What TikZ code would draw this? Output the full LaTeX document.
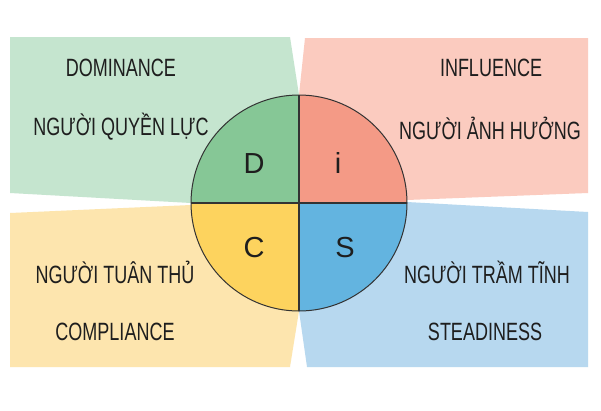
\documentclass[tikz,border=0pt]{standalone}
\usepackage{fontspec}
\setmainfont{Liberation Sans}[FakeStretch=0.72]
\newfontfamily\letterfont{Liberation Sans}
\definecolor{gLight}{HTML}{C5E5CF}
\definecolor{pLight}{HTML}{FBCBBF}
\definecolor{yLight}{HTML}{FDE5AE}
\definecolor{bLight}{HTML}{B7D8EF}
\definecolor{gDark}{HTML}{86C796}
\definecolor{pDark}{HTML}{F49A86}
\definecolor{yDark}{HTML}{FDD35E}
\definecolor{bDark}{HTML}{63B4E0}
\definecolor{lineC}{HTML}{333333}
\definecolor{txtC}{HTML}{1E1E1E}
\begin{document}
\begin{tikzpicture}[x=1pt,y=-1pt,
  lbl/.style={text=txtC,font=\fontsize{25}{30}\selectfont,inner sep=0pt,anchor=center},
  letter/.style={text=txtC,font=\letterfont\fontsize{29}{34}\selectfont,inner sep=0pt,anchor=center}]
\useasboundingbox (0,0) rectangle (601,410);
\fill[white] (0,0) rectangle (601,410);
% quadrants
\fill[gLight] (10,37) -- (290,37) -- (299,95) -- (299,203) -- (191,203) -- (10,193) -- cycle;
\fill[pLight] (305,38) -- (588,38) -- (588,193) -- (407,200) -- (299,203) -- (299,95) -- cycle;
\fill[yLight] (10,213) -- (191,205) -- (299,203) -- (299,311) -- (290,367) -- (10,367) -- cycle;
\fill[bLight] (407,202) -- (588,212) -- (588,367) -- (307,367) -- (299,311) -- (299,203) -- cycle;
% circle (y axis points down, so angles run clockwise on the page)
\coordinate (ctr) at (299,203);
\fill[gDark] (ctr) -- ++(180:108) arc[start angle=180,end angle=270,radius=108] -- cycle;
\fill[pDark] (ctr) -- ++(270:108) arc[start angle=270,end angle=360,radius=108] -- cycle;
\fill[bDark] (ctr) -- ++(0:108) arc[start angle=0,end angle=90,radius=108] -- cycle;
\fill[yDark] (ctr) -- ++(90:108) arc[start angle=90,end angle=180,radius=108] -- cycle;
\draw[lineC,line width=2.2pt] (191,203) -- (407,203);
\draw[lineC,line width=2.2pt] (299,95) -- (299,311);
\draw[lineC,line width=1pt] (ctr) circle[radius=108];
% letters
\node[letter] (D) at (254,164) {D};
\node[letter] (I) at (338,163) {i};
\node[letter] (C) at (254,248) {C};
\node[letter] (S) at (345,248) {S};
% labels
\node[lbl] (dom) at (121,68) {DOMINANCE};
\node[lbl] (domvn) at (121,127) {NGƯỜI QUYỀN LỰC};
\node[lbl] (inf) at (491,68) {INFLUENCE};
\node[lbl] (infvn) at (490,128) {NGƯỜI ẢNH HƯỞNG};
\node[lbl] (comvn) at (115,272) {NGƯỜI TUÂN THỦ};
\node[lbl] (com) at (115,332) {COMPLIANCE};
\node[lbl] (stevn) at (487,272) {NGƯỜI TRẦM TĨNH};
\node[lbl] (ste) at (485,332) {STEADINESS};
\end{tikzpicture}
\end{document}
